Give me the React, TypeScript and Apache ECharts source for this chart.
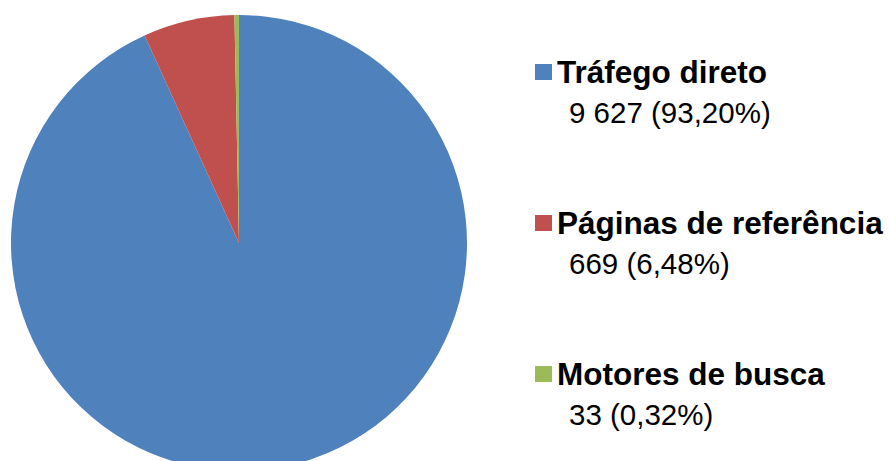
import React, { useEffect, useRef } from "react";
import * as echarts from "echarts";

const categories = ["Tráfego direto", "Páginas de referência", "Motores de busca"];
const values = [9627, 669, 33];
const colors = ["#4F81BD", "#C0504D", "#9BBB59"];

const total = values.reduce((a, b) => a + b, 0);
const fmtInt = (n: number) => String(n).replace(/\B(?=(\d{3})+(?!\d))/g, " ");
const fmtPct = (n: number) => ((n / total) * 100).toFixed(2).replace(".", ",") + "%";

const FONT = "'Liberation Sans', Arial, Helvetica, sans-serif";

export default function App() {
  const ref = useRef<HTMLDivElement>(null);
  useEffect(() => {
    if (!ref.current) return;
    const chart = echarts.init(ref.current, null, { renderer: "svg" });
    chart.setOption({
      animation: false,
      backgroundColor: "#ffffff",
      color: colors,
      legend: [
        {
          orient: "vertical",
          left: 530,
          top: 47,
          itemWidth: 17,
          itemHeight: 16,
          itemGap: 111,
          icon: "rect",
          selectedMode: false,
          data: categories,
          textStyle: {
            fontFamily: FONT,
            fontWeight: "bold",
            fontSize: 31.5,
            lineHeight: 40,
            color: "#000",
          },
        },
        {
          orient: "vertical",
          left: 559,
          top: 87,
          itemWidth: 0,
          itemHeight: 16,
          itemGap: 111,
          icon: "none",
          selectedMode: false,
          data: categories,
          formatter: (name: string) => {
            const i = categories.indexOf(name);
            return `${fmtInt(values[i])} (${fmtPct(values[i])})`;
          },
          textStyle: {
            fontFamily: FONT,
            fontSize: 29.5,
            lineHeight: 40,
            color: "#000",
          },
        },
      ],
      series: [
        {
          type: "pie",
          center: [239, 243],
          radius: 228,
          startAngle: 90,
          clockwise: true,
          label: { show: false },
          labelLine: { show: false },
          emphasis: { disabled: true },
          itemStyle: { borderWidth: 0 },
          data: categories.map((c, i) => ({ name: c, value: values[i] })),
        },
      ],
    });
    return () => chart.dispose();
  }, []);
  return (
    <div
      ref={ref}
      style={{ position: "fixed", left: 0, top: 0, width: 889, height: 461 }}
    />
  );
}
